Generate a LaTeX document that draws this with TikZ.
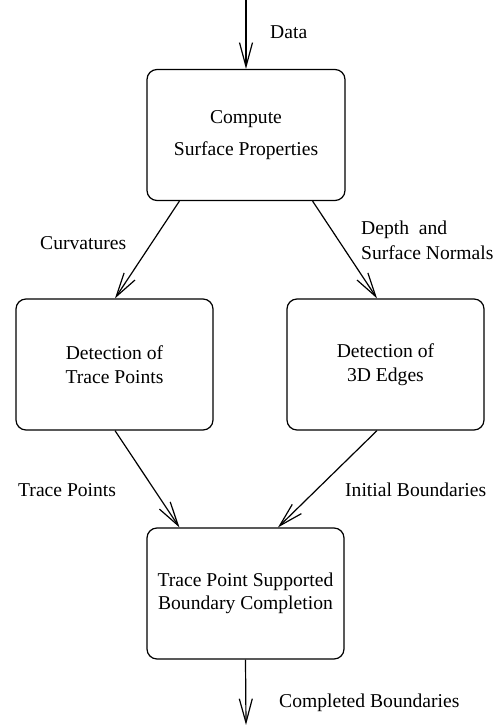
\documentclass[tikz,border=0pt]{standalone}
\usepackage{fontspec}
\setmainfont{Liberation Serif}
\usetikzlibrary{arrows.meta}
\begin{document}
\begin{tikzpicture}[x=1pt,y=-1pt,
  box/.style={draw,line width=1.2pt,rounded corners=10pt,inner sep=0pt,align=center,font=\fontsize{19.6}{23.5}\selectfont},
  lbl/.style={anchor=west,inner sep=0pt,align=left,font=\fontsize{19.6}{25}\selectfont},
  conn/.style={line width=1.2pt,-{Straight Barb[length=24pt,width=13pt,line width=1.2pt]}}]
\useasboundingbox (0,0) rectangle (502,725);
\node[box,minimum width=198pt,minimum height=131pt] (top) at (246,135) {Compute\\[8pt]Surface Properties};
\node[box,minimum width=197pt,minimum height=131pt] (lft) at (114.5,364.5) {Detection of\\Trace Points};
\node[box,minimum width=197pt,minimum height=131pt] (rgt) at (385.5,364.5) {Detection of\\3D Edges};
\node[box,minimum width=197pt,minimum height=131pt] (bot) at (245.5,593.5) {Trace Point Supported\\Boundary Completion};
\coordinate (in) at (246,0);
\coordinate (out) at (246,725);
\draw[conn] (in) -- (top.north);
\draw[conn] ([xshift=33pt]top.south west) -- ([xshift=0.5pt]lft.north);
\draw[conn] ([xshift=-33pt]top.south east) -- ([xshift=-8.5pt]rgt.north);
\draw[conn] ([xshift=0.5pt]lft.south) -- ([xshift=33pt]bot.north west);
\draw[conn] ([xshift=-8.5pt]rgt.south) -- ([xshift=32.5pt]bot.north);
\draw[conn] (bot.south) -- (out);
\node[lbl] (ldata) at (270,32) {Data};
\node[lbl] (lcurv) at (40,243) {Curvatures};
\node[lbl] (ldepth) at (361,240.5) {Depth\ \ and\\Surface Normals};
\node[lbl] (ltrace) at (18,490) {Trace Points};
\node[lbl] (linit) at (345,490) {Initial Boundaries};
\node[lbl] (lcomp) at (279,703) {Completed Boundaries};
\end{tikzpicture}
\end{document}
